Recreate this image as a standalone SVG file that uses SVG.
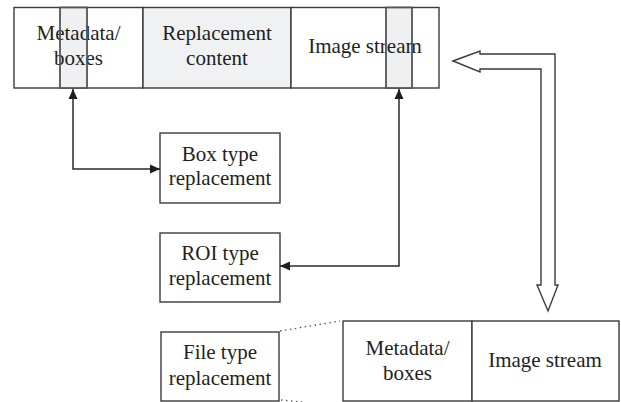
<svg xmlns="http://www.w3.org/2000/svg" width="621" height="402" viewBox="0 0 621 402">
  <defs>
    <style>
      .box { fill: #ffffff; stroke: #3a3a3a; stroke-width: 1.4; }
      .shade { fill: #f0f1f3; stroke: #3a3a3a; stroke-width: 1.4; }
      .strip { fill: #eff0f2; }
      .strip-edge { fill: none; stroke: #555555; stroke-width: 1.8; }
      .label { font-family: "Liberation Serif", "Times New Roman", serif; font-size: 21px; fill: #231f20; text-anchor: middle; }
      .link { fill: none; stroke: #2a2a2a; stroke-width: 1.5; }
      .dots { fill: none; stroke: #555555; stroke-width: 1.3; stroke-dasharray: 1.5 3.5; }
      .block { fill: #ffffff; stroke: #3a3a3a; stroke-width: 1.4; stroke-linejoin: miter; }
    </style>
    <marker id="tip" viewBox="0 0 10 10" refX="10" refY="5" markerWidth="10" markerHeight="10" markerUnits="userSpaceOnUse" orient="auto-start-reverse">
      <path d="M0,0.5 L10,5 L0,9.5 Z" fill="#1e1e1e"/>
    </marker>
  </defs>

  <!-- container file: metadata, replacement content, image stream -->
  <g id="file-top">
    <rect class="box" x="14" y="7.5" width="129" height="80.5"/>
    <rect class="shade" x="143" y="7.5" width="148" height="80.5"/>
    <rect class="box" x="291" y="7.5" width="148" height="80.5"/>
    <rect class="strip" x="60" y="7.5" width="27" height="80.5"/>
    <rect class="strip" x="386" y="7.5" width="26" height="80.5"/>
    <text class="label" x="78.5" y="40">Metadata/</text>
    <text class="label" x="78.5" y="65">boxes</text>
    <text class="label" x="217" y="40">Replacement</text>
    <text class="label" x="217" y="65">content</text>
    <text class="label" x="365" y="53">Image stream</text>
    <rect class="strip-edge" x="60" y="7.5" width="27" height="80.5"/>
    <rect class="strip-edge" x="386" y="7.5" width="26" height="80.5"/>
  </g>

  <g id="box-type">
    <rect class="box" x="160" y="133" width="120" height="70"/>
    <text class="label" x="220" y="161">Box type</text>
    <text class="label" x="220" y="185">replacement</text>
  </g>

  <g id="roi-type">
    <rect class="box" x="160" y="233" width="120" height="69"/>
    <text class="label" x="220" y="260">ROI type</text>
    <text class="label" x="220" y="285">replacement</text>
  </g>

  <g id="file-type">
    <rect class="box" x="161" y="332" width="118" height="69"/>
    <text class="label" x="220" y="359">File type</text>
    <text class="label" x="220" y="385">replacement</text>
  </g>

  <g id="file-bottom">
    <rect class="box" x="343" y="321" width="129" height="80"/>
    <rect class="box" x="472" y="321" width="147" height="80"/>
    <text class="label" x="407.5" y="355">Metadata/</text>
    <text class="label" x="407.5" y="380">boxes</text>
    <text class="label" x="545" y="367">Image stream</text>
  </g>

  <g id="connectors">
    <polyline class="link" points="73,89 73,169 160,169" marker-start="url(#tip)" marker-end="url(#tip)"/>
    <polyline class="link" points="399,89 399,266 280,266" marker-start="url(#tip)" marker-end="url(#tip)"/>
    <line class="dots" x1="280" y1="331" x2="340" y2="321"/>
    <line class="dots" x1="281" y1="400" x2="302" y2="402"/>
    <path class="block" d="M453,61 L480,51 L480,54 L555,54 L555,285 L558,285 L548,311 L537,285 L541,285 L541,69 L480,69 L480,72 Z"/>
  </g>
</svg>
